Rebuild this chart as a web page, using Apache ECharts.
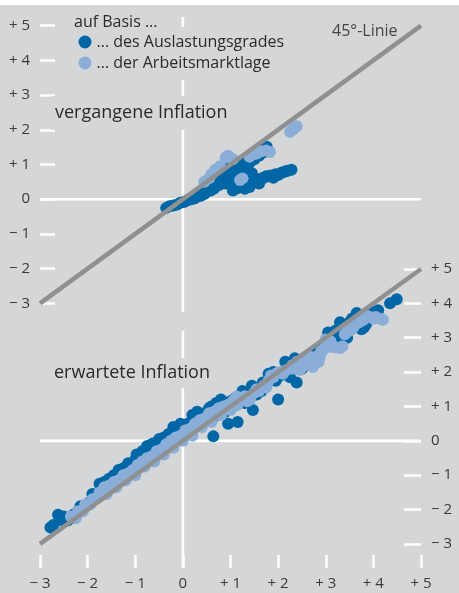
<!DOCTYPE html>
<html>
<head>
<meta charset="utf-8">
<script src="https://cdn.jsdelivr.net/npm/echarts@6/dist/echarts.min.js"></script>
<style>
html,body{margin:0;padding:0;background:#fff;}
#chart{width:459px;height:593px;background:linear-gradient(#ffffff 0,#ffffff 5px,#d5d6d8 5px,#d5d6d8 100%);}
</style>
</head>
<body>
<div id="chart"></div>
<script>
// ---- data ----
var seriesNames = ['... des Auslastungsgrades', '... der Arbeitsmarktlage'];
var legendTitle = 'auf Basis ...';
var panelTitles = ['vergangene Inflation', 'erwartete Inflation'];
var lineLabel = '45°-Linie';
var tickValues = [-3, -2, -1, 0, 1, 2, 3, 4, 5];
var tickLabels = ['− 3', '− 2', '− 1', '0', '+ 1', '+ 2', '+ 3', '+ 4', '+ 5'];

// top panel: past inflation
var pastUtil = [
  [-0.35,-0.25],[-0.28,-0.2],[-0.2,-0.18],[-0.12,-0.15],[-0.05,-0.1],[0.02,-0.08],[0.1,-0.03],
  [0.18,0.0],[0.25,0.03],[0.3,0.08],[0.38,0.1],[0.45,0.15],[0.5,0.22],[0.58,0.25],[0.65,0.3],
  [0.7,0.38],[0.78,0.42],[0.85,0.5],[0.9,0.6],[0.95,0.7],[1.0,0.8],[1.05,0.9],[1.1,1.0],
  [1.15,1.05],[1.2,0.95],[1.25,1.1],[1.3,1.15],[1.35,1.2],[1.45,1.28],[1.55,1.35],[1.62,1.41],
  [1.7,1.45],[1.76,1.51],[0.6,0.45],[0.75,0.6],[0.85,0.75],[1.0,0.6],[1.1,0.75],
  [0.4,0.25],[0.5,0.35],[0.55,0.4],[0.65,0.5],[0.7,0.55],[0.8,0.65],[0.9,0.45],[0.95,0.55],
  [1.0,0.95],[1.05,0.65],[1.1,0.5],[1.15,0.8],[1.2,0.7],[1.3,0.85],[1.35,0.95],[1.4,1.05],
  [1.45,0.75],[1.5,1.15],[1.6,1.25],[1.65,1.45],[1.7,1.35],
  [1.05,0.25],[1.13,0.31],[1.2,0.4],[1.25,0.35],[1.3,0.3],[1.35,0.38],[1.4,0.35],[1.45,0.45],
  [1.5,0.5],[1.55,0.55],[1.6,0.45],[1.65,0.6],[1.7,0.62],[1.75,0.66],[1.8,0.66],[1.85,0.68],
  [1.9,0.62],[1.95,0.72],[2.0,0.7],[2.05,0.75],[2.1,0.78],[2.15,0.8],[2.2,0.82],[2.28,0.85]
];
var pastLabour = [
  [0.45,0.5],[0.55,0.6],[0.6,0.72],[0.68,0.85],[0.78,0.95],[0.9,1.2],[0.95,1.25],[1.05,1.15],
  [1.2,0.55],[1.25,0.6],[1.4,1.22],[1.5,1.3],[1.55,1.32],[1.65,1.38],[1.75,1.4],[1.83,1.36],
  [2.25,1.94],[2.32,2.02],[2.39,2.1]
];

// bottom panel: expected inflation
var expUtil = [
  [-2.78,-2.52],[-2.72,-2.45],[-2.62,-2.15],[-2.55,-2.3],[-2.5,-2.2],[-2.42,-2.32],[-2.35,-2.25],
  [-2.3,-2.15],[-2.2,-2.05],[-2.15,-1.9],[-2.1,-1.95],[-2.0,-1.85],[-1.95,-1.78],[-1.9,-1.55],
  [-1.85,-1.65],[-1.8,-1.58],[-1.75,-1.25],[-1.7,-1.45],[-1.65,-1.2],[-1.6,-1.35],[-1.55,-1.1],
  [-1.5,-1.2],[-1.45,-1.0],[-1.4,-1.1],[-1.35,-0.85],[-1.3,-1.0],[-1.25,-0.8],[-1.2,-0.95],
  [-1.15,-0.65],[-1.1,-0.75],[-1.05,-0.78],[-1.0,-0.55],[-0.97,-0.4],[-0.9,-0.6],[-0.85,-0.3],
  [-0.8,-0.5],[-0.75,-0.15],[-0.7,-0.35],[-0.63,-0.08],[-0.6,-0.3],[-0.55,-0.2],[-0.5,0.05],
  [-0.45,-0.05],[-0.4,0.1],[-0.35,0.0],[-0.3,0.2],[-0.25,0.15],[-0.2,0.4],[-0.15,0.2],[-0.1,0.3],
  [-0.05,0.5],[0.0,0.35],[0.05,0.2],[0.1,0.5],[0.15,0.4],[0.2,0.75],[0.25,0.55],[0.3,0.85],
  [0.35,0.7],[0.4,0.5],[0.45,0.8],[0.5,0.65],[0.55,0.95],[0.6,1.0],[0.64,0.13],[0.65,0.7],
  [0.7,1.1],[0.75,0.9],[0.8,1.2],[0.85,1.0],[0.9,0.85],[0.95,0.5],[1.0,1.15],[1.05,1.0],
  [1.1,1.25],[1.15,0.55],[1.2,1.3],[1.25,1.45],[1.3,1.1],[1.35,1.25],[1.4,1.4],[1.45,1.6],
  [1.47,0.9],[1.5,1.5],[1.55,1.35],[1.6,1.55],[1.65,1.45],[1.68,1.7],[1.75,1.6],[1.8,1.95],
  [1.85,1.8],[1.9,2.0],[1.95,1.75],[2.0,1.2],[2.05,1.9],[2.1,2.0],[2.15,2.3],[2.2,2.25],
  [2.25,1.85],[2.3,2.1],[2.35,2.4],[2.39,1.7],[2.45,2.3],[2.5,2.1],[2.52,2.35],[2.6,2.4],
  [2.65,2.35],[2.7,2.5],[2.75,2.6],[2.8,2.55],[2.85,2.5],[2.9,2.7],[2.95,2.75],[3.0,2.85],
  [3.05,3.15],[3.1,3.0],[3.15,3.1],[3.15,2.95],[3.2,3.2],[3.25,3.0],[3.3,3.3],[3.3,3.45],
  [3.35,3.1],[3.4,3.35],[3.45,3.0],[3.45,3.2],[3.5,3.45],[3.55,3.55],[3.6,3.3],[3.65,3.72],
  [3.7,3.35],[3.75,3.25],[3.8,3.3],[3.85,3.4],[3.9,3.6],[4.0,3.75],[4.1,3.8],[4.35,4.0],[4.49,4.12]
];
var expLabour = [
  [-2.35,-2.2],[-2.25,-2.25],[-2.2,-2.05],[-2.1,-2.05],[-2.05,-1.85],[-1.95,-1.85],[-1.9,-1.7],
  [-1.8,-1.65],[-1.75,-1.5],[-1.65,-1.35],[-1.6,-1.55],[-1.55,-1.3],[-1.45,-1.2],[-1.4,-1.35],
  [-1.35,-1.15],[-1.25,-1.0],[-1.2,-1.15],[-1.15,-0.95],[-1.05,-0.85],[-1.0,-1.0],[-0.95,-0.7],
  [-0.85,-0.6],[-0.8,-0.75],[-0.75,-0.5],[-0.65,-0.45],[-0.6,-0.6],[-0.55,-0.3],[-0.45,-0.25],
  [-0.4,-0.4],[-0.35,-0.1],[-0.25,0.0],[-0.2,-0.2],[-0.15,0.1],[-0.05,0.15],[0.0,0.0],[0.05,0.3],
  [0.15,0.35],[0.2,0.15],[0.25,0.5],[0.35,0.6],[0.4,0.4],[0.45,0.65],[0.55,0.8],[0.6,0.55],
  [0.65,0.85],[0.75,0.95],[0.8,0.75],[0.85,1.0],[0.95,1.05],[1.0,0.9],[1.05,1.15],[1.13,1.29],
  [1.15,1.05],[1.2,1.2],[1.3,1.3],[1.35,1.15],[1.41,1.2],[1.5,1.4],[1.55,1.5],[1.6,1.45],
  [1.7,1.6],[1.75,1.55],[1.8,1.75],[1.85,1.9],[1.9,1.85],[1.97,1.97],[2.05,2.0],[2.1,1.95],
  [2.15,2.05],[2.25,2.1],[2.3,2.2],[2.35,2.1],[2.4,2.3],[2.46,2.06],[2.55,2.2],[2.6,2.45],
  [2.65,2.3],[2.67,2.45],[2.73,2.15],[2.75,2.4],[2.8,2.45],[2.85,2.3],[2.88,2.45],[2.9,2.6],
  [2.94,2.64],[3.0,2.75],[3.0,2.95],[3.09,2.74],[3.1,2.9],[3.15,2.75],[3.2,2.72],[3.3,2.7],
  [3.35,2.75],[3.4,3.1],[3.45,3.3],[3.5,3.2],[3.57,3.28],[3.6,3.35],[3.7,3.45],[3.75,3.5],
  [3.79,3.52],[3.85,3.65],[3.93,3.6],[4.0,3.55],[4.05,3.6],[4.15,3.55],[4.2,3.52]
];

// reference lines
var diagLine = [[-3,-3],[5,5]];
var zeroHTop = [[-3,0],[5,0]];
var zeroVTop = [[0,-3.25],[0,5.25]];
var zeroHBottom = [[-3,0],[5,0]];
var zeroVBottom = [[0,-3.7],[0,3.2]];

// ---- chart ----
var BG = '#d5d6d8';
var DARK = '#0067a7';
var LIGHT = '#8aaed8';
var GREYLINE = '#8f9092';
var FONT = 'Open Sans';
function fmt(v){ var i = tickValues.indexOf(Math.round(v)); return i >= 0 ? tickLabels[i] : ''; }

var chart = echarts.init(document.getElementById('chart'), null, {renderer:'canvas'});
var tickStyle = {color:'#ffffff', width:2.5};

function zeroSeries(data, xi, yi){
  return {type:'line', data:data, xAxisIndex:xi, yAxisIndex:yi, symbol:'none', silent:true,
    lineStyle:{color:'#ffffff', width:2.6}, z:1, animation:false};
}
function dots(name, data, color, xi, yi){
  return {type:'scatter', name:name, data:data, xAxisIndex:xi, yAxisIndex:yi, symbolSize:12,
    itemStyle:{color:color, opacity:1, borderWidth:0}, z:2, animation:false, silent:true};
}
function diag(xi, yi){
  return {type:'line', data:diagLine, xAxisIndex:xi, yAxisIndex:yi, symbol:'none', silent:true,
    lineStyle:{color:GREYLINE, width:4.5}, z:3, animation:false};
}
var axisLab = {show:true, formatter:fmt, color:'#3a3a3a', fontSize:15, fontFamily:FONT};

chart.setOption({
  backgroundColor:'transparent',
  animation:false,
  textStyle:{fontFamily:FONT},
  title:[
    {text:legendTitle, left:74, top:12, padding:0, textStyle:{fontSize:16, lineHeight:20, fontWeight:'normal', color:'#2a2a2a', fontFamily:FONT}},
    {text:panelTitles[0], left:51, top:96, padding:[6,4,6,4], backgroundColor:BG, textStyle:{fontSize:18, lineHeight:22, fontWeight:'normal', color:'#2a2a2a', fontFamily:FONT}},
    {text:panelTitles[1], left:50, top:358, padding:[4,4,4,4], backgroundColor:BG, textStyle:{fontSize:18, lineHeight:22, fontWeight:'normal', color:'#2a2a2a', fontFamily:FONT}},
    {text:lineLabel, left:332, top:21, padding:0, textStyle:{fontSize:16, lineHeight:20, fontWeight:'normal', color:'#454545', fontFamily:FONT}}
  ],
  legend:{
    data:seriesNames, orient:'vertical', left:74.5, top:27, padding:[7,6,9,4],
    backgroundColor:BG, icon:'circle', itemWidth:13, itemHeight:13, itemGap:5,
    textStyle:{fontSize:16, lineHeight:16, color:'#2a2a2a', fontFamily:FONT},
    selectedMode:false
  },
  grid:[
    {left:40, right:38, top:17, height:295},
    {left:40, right:38, top:269, height:299}
  ],
  xAxis:[
    {type:'value', gridIndex:0, min:-3, max:5, show:false, axisLine:{onZero:false}},
    {type:'value', gridIndex:1, min:-3, max:5, interval:1, position:'bottom',
      axisLine:{show:false, onZero:false}, splitLine:{show:false},
      axisTick:{show:true, inside:true, length:13, lineStyle:tickStyle},
      axisLabel:Object.assign({margin:8}, axisLab)}
  ],
  yAxis:[
    {type:'value', gridIndex:0, min:-3.25, max:5.25, position:'left',
      axisLine:{show:false, onZero:false}, splitLine:{show:false},
      axisTick:{show:true, inside:true, length:15, lineStyle:tickStyle, customValues:tickValues},
      axisLabel:Object.assign({margin:10, customValues:tickValues}, axisLab)},
    {type:'value', gridIndex:1, min:-3.7, max:5, position:'right',
      axisLine:{show:false, onZero:false}, splitLine:{show:false},
      axisTick:{show:true, inside:true, length:17, lineStyle:tickStyle, customValues:tickValues},
      axisLabel:Object.assign({margin:10, customValues:tickValues}, axisLab)}
  ],
  series:[
    zeroSeries(zeroHTop,0,0), zeroSeries(zeroVTop,0,0),
    zeroSeries(zeroHBottom,1,1), zeroSeries(zeroVBottom,1,1),
    dots(seriesNames[0], pastUtil, DARK, 0, 0),
    dots(seriesNames[1], pastLabour, LIGHT, 0, 0),
    dots(seriesNames[0], expUtil, DARK, 1, 1),
    dots(seriesNames[1], expLabour, LIGHT, 1, 1),
    diag(0,0), diag(1,1)
  ]
});
</script>
</body>
</html>
